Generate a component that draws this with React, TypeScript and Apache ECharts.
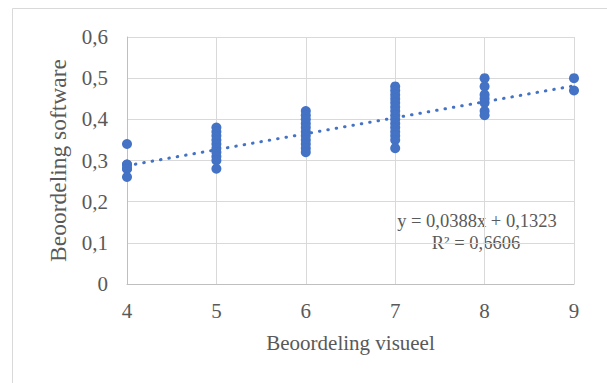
import React, { useEffect, useRef } from "react";
import * as echarts from "echarts";

// Visual score (x) and the software scores measured for it (y)
const visualScores = [4, 5, 6, 7, 8, 9];
const softwareScores: number[][] = [
  [0.34, 0.29, 0.29, 0.28, 0.28, 0.26],
  [0.38, 0.37, 0.36, 0.35, 0.34, 0.33, 0.32, 0.31, 0.3, 0.28],
  [0.42, 0.41, 0.4, 0.39, 0.38, 0.37, 0.36, 0.35, 0.34, 0.33, 0.32],
  [0.48, 0.47, 0.46, 0.45, 0.44, 0.43, 0.42, 0.41, 0.4, 0.39, 0.38, 0.37, 0.36, 0.35, 0.33],
  [0.5, 0.48, 0.46, 0.45, 0.44, 0.42, 0.41],
  [0.5, 0.47],
];

// Linear trend line coefficients
const slope = 0.0388;
const intercept = 0.1323;
const rSquared = 0.6606;

const xTicks = [4, 5, 6, 7, 8, 9];
const yTicks = [0, 0.1, 0.2, 0.3, 0.4, 0.5, 0.6];

const fmt = (v: number, d: number) => v.toFixed(d).replace(".", ",");

export default function App() {
  const ref = useRef<HTMLDivElement>(null);

  useEffect(() => {
    if (!ref.current) return;
    const chart = echarts.init(ref.current, undefined, { renderer: "svg" });

    const points: number[][] = [];
    visualScores.forEach((x, i) => softwareScores[i].forEach((y) => points.push([x, y])));

    const xMin = xTicks[0];
    const xMax = xTicks[xTicks.length - 1];
    const yMin = yTicks[0];
    const yMax = yTicks[yTicks.length - 1];
    const trend = [
      [xMin, slope * xMin + intercept],
      [xMax, slope * xMax + intercept],
    ];

    const font = "'Liberation Serif', 'Times New Roman', serif";
    const textColor = "#595959";

    chart.setOption({
      animation: false,
      backgroundColor: "#ffffff",
      grid: { left: 127, right: 33, top: 37, bottom: 99 },
      graphic: [
        {
          type: "rect",
          shape: { x: 12.5, y: 8.5, width: 640, height: 420 },
          style: { fill: "none", stroke: "#d9d9d9", lineWidth: 1 },
          silent: true,
        },
        {
          type: "text",
          x: 477,
          y: 221,
          style: {
            text: `y = ${fmt(slope, 4)}x + ${fmt(intercept, 4)}`,
            font: `18.5px ${font}`,
            fill: textColor,
            align: "center",
            verticalAlign: "middle",
          },
        },
        {
          type: "text",
          x: 476,
          y: 243,
          style: {
            text: `R² = ${fmt(rSquared, 4)}`,
            font: `18.5px ${font}`,
            fill: textColor,
            align: "center",
            verticalAlign: "middle",
          },
        },
      ],
      xAxis: {
        type: "value",
        min: xMin,
        max: xMax,
        interval: 1,
        name: "Beoordeling visueel",
        nameLocation: "middle",
        nameGap: 48,
        nameTextStyle: { fontFamily: font, fontSize: 21, color: textColor },
        axisLine: { show: true, lineStyle: { color: "#bfbfbf", width: 1 } },
        axisTick: { show: false },
        splitLine: { show: true, lineStyle: { color: "#d9d9d9", width: 1 } },
        axisLabel: {
          fontFamily: font,
          fontSize: 21,
          color: textColor,
          margin: 16,
          formatter: (v: number) => String(v),
        },
      },
      yAxis: {
        type: "value",
        min: yMin,
        max: yMax,
        interval: 0.1,
        name: "Beoordeling software",
        nameLocation: "middle",
        nameGap: 57,
        nameTextStyle: { fontFamily: font, fontSize: 23.5, color: textColor },
        axisLine: { show: true, lineStyle: { color: "#bfbfbf", width: 1 } },
        axisTick: { show: false },
        splitLine: { show: true, lineStyle: { color: "#d9d9d9", width: 1 } },
        axisLabel: {
          fontFamily: font,
          fontSize: 21,
          color: textColor,
          margin: 19,
          formatter: (v: number) => (v === 0 ? "0" : fmt(v, 1)),
        },
      },
      series: [
        {
          type: "scatter",
          data: points,
          symbol: "circle",
          symbolSize: 10,
          itemStyle: { color: "#4472c4", opacity: 1 },
          z: 2,
        },
        {
          type: "line",
          data: trend,
          symbol: "none",
          lineStyle: { color: "#4472c4", width: 3, type: [0.5, 8], cap: "round" },
          z: 3,
        },
      ],
    });

    return () => chart.dispose();
  }, []);

  return (
    <div
      ref={ref}
      style={{ position: "absolute", left: 0, top: 0, width: 607, height: 383 }}
    />
  );
}
